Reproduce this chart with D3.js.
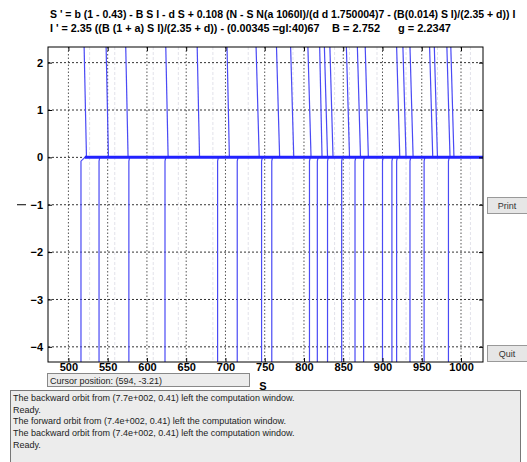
<!DOCTYPE html>
<html><head><meta charset="utf-8">
<script src="https://cdn.jsdelivr.net/npm/d3@7"></script>
<style>
body{margin:0;background:#fff;}
svg{display:block;font-family:"Liberation Sans",Arial,sans-serif;}
</style></head>
<body>
<script>
// ---------- data ----------
const xTicks = [500, 550, 600, 650, 700, 750, 800, 850, 900, 950, 1000];
const yTicks = [-4, -3, -2, -1, 0, 1, 2];
const xDomain = [474, 1028];
const yDomain = [-4.32, 2.33];

// orbits above I = 0 : S at top of window and S where they reach I = 0
const upperTopS  = [520, 548, 573, 624, 664, 702, 739, 765, 783, 805, 820, 826, 833, 854, 868, 878, 918, 926, 935, 960, 966, 982, 987];
const upperZeroS = [523, 551, 576, 627, 667, 705, 743, 769, 787, 809, 823, 830, 837, 858, 872, 882, 922, 930, 939, 964, 970, 986, 991];

// orbits below I = 0 : S where they leave I = 0 and S at bottom of window
const lowerZeroS   = [521, 540, 578, 624, 691, 716, 747, 760, 808, 818, 831, 849, 866, 877, 901, 913, 919, 936, 954, 985];
const lowerBottomS = [516, 539, 577, 623, 690, 715, 746, 759, 807, 817, 830, 848, 865, 876, 900, 912, 918, 935, 953, 984];

// faint ghost traces visible in the window
const ghostS = [527, 559, 608, 640, 684, 729, 786, 839, 858, 893, 930, 970, 1012];

// equilibrium line I = 0
const zeroLineS = [521, 1028];

const title1 = "S ' = b (1 - 0.43) - B S I - d S + 0.108 (N - S N(a 1060I)/(d d 1.750004)7 - (B(0.014) S I)/(2.35 + d)) I";
const title2a = "I ' = 2.35 ((B (1 + a) S I)/(2.35 + d)) - (0.00345 =gl:40)67";
const title2b = "B = 2.752";
const title2c = "g = 2.2347";
const xLabel = "S";
const cursorText = "Cursor position:  (594, -3.21)";
const messages = [
  "The backward orbit from (7.7e+002, 0.41) left the computation window.",
  "Ready.",
  "The forward orbit from (7.4e+002, 0.41) left the computation window.",
  "The backward orbit from (7.4e+002, 0.41) left the computation window.",
  "Ready."
];

// ---------- layout ----------
const W = 527, H = 462;
const L = 48, R = 483, T = 47, B = 362;

const svg = d3.select("body").append("svg").attr("width", W).attr("height", H);
const x = d3.scaleLinear().domain(xDomain).range([L, R]);
const y = d3.scaleLinear().domain(yDomain).range([B, T]);

// titles (squeezed horizontally to the width they take in the window)
function squeezed(str, x0, y0, width) {
  const t = svg.append("text").attr("font-size", 11).attr("font-weight", "bold").text(str);
  const w = t.node().getComputedTextLength();
  const sx = Math.min(1, width / w);
  t.attr("transform", `translate(${x0},${y0}) scale(${sx},1)`);
  return t;
}
squeezed(title1, 50, 18, 466);
squeezed(title2a, 50, 31.5, 270);
svg.append("text").attr("x", 332).attr("y", 31.5).attr("font-size", 11).attr("font-weight", "bold").text(title2b);
svg.append("text").attr("x", 398).attr("y", 31.5).attr("font-size", 11).attr("font-weight", "bold").text(title2c);

// plot background
svg.append("rect").attr("x", L).attr("y", T).attr("width", R - L).attr("height", B - T).attr("fill", "#fff");

// faint ghosts
svg.selectAll("line.ghost").data(ghostS).join("line")
  .attr("x1", d => x(d)).attr("x2", d => x(d)).attr("y1", T).attr("y2", B)
  .attr("stroke", "#e2e2ea").attr("stroke-width", 1).attr("stroke-dasharray", "3,2");

// grid
const grid = svg.append("g");
grid.selectAll("line.gx").data(xTicks).join("line")
  .attr("x1", d => x(d)).attr("x2", d => x(d)).attr("y1", T).attr("y2", B)
  .attr("stroke", "#555").attr("stroke-width", 1).attr("stroke-dasharray", "1.5,2");
grid.selectAll("line.gy").data(yTicks).join("line")
  .attr("y1", d => y(d)).attr("y2", d => y(d)).attr("x1", L).attr("x2", R)
  .attr("stroke", "#333").attr("stroke-width", 1).attr("stroke-dasharray", "2,2");

// orbits
svg.append("clipPath").attr("id", "c").append("rect")
  .attr("x", L).attr("y", T).attr("width", R - L).attr("height", B - T);
const plot = svg.append("g").attr("clip-path", "url(#c)");
const line = d3.line().x(d => x(d[0])).y(d => y(d[1]));
const blue = "#4a4af5";

plot.selectAll("path.up").data(upperTopS.map((s, i) => [[s, yDomain[1]], [upperZeroS[i], 0]])).join("path")
  .attr("d", line).attr("fill", "none").attr("stroke", blue).attr("stroke-width", 1.2);
plot.selectAll("path.lo").data(lowerBottomS.map((s, i) => [[lowerZeroS[i], 0], [s, -0.08], [s, yDomain[0]]])).join("path")
  .attr("d", line).attr("fill", "none").attr("stroke", blue).attr("stroke-width", 1.2);
plot.append("path").datum(zeroLineS.map(s => [s, 0])).attr("d", line)
  .attr("fill", "none").attr("stroke", "#2222ff").attr("stroke-width", 3);

// frame
svg.append("rect").attr("x", L).attr("y", T).attr("width", R - L).attr("height", B - T)
  .attr("fill", "none").attr("stroke", "#000").attr("stroke-width", 1);

// axes
const ax = svg.append("g").attr("transform", `translate(0,${B})`)
  .call(d3.axisBottom(x).tickValues(xTicks).tickSize(-4).tickPadding(1).tickFormat(d3.format("d")));
const axT = svg.append("g").attr("transform", `translate(0,${T})`)
  .call(d3.axisTop(x).tickValues(xTicks).tickSize(-4).tickFormat(""));
const ay = svg.append("g").attr("transform", `translate(${L},0)`)
  .call(d3.axisLeft(y).tickValues(yTicks).tickSize(-4).tickPadding(5).tickFormat(d3.format("d")));
const ayR = svg.append("g").attr("transform", `translate(${R},0)`)
  .call(d3.axisRight(y).tickValues(yTicks).tickSize(-4).tickFormat(""));
[ax, axT, ay, ayR].forEach(g => {
  g.select(".domain").remove();
  g.selectAll(".tick line").attr("stroke", "#000");
  g.selectAll("text").attr("font-size", 11).attr("font-weight", "bold").attr("fill", "#000")
    .attr("font-family", "'Liberation Sans',Arial,sans-serif");
});

// x label
svg.append("text").attr("x", 263).attr("y", 390).attr("text-anchor", "middle")
  .attr("font-size", 11).attr("font-weight", "bold").text(xLabel);

// stray dash left of -1
svg.append("line").attr("x1", 17).attr("x2", 26).attr("y1", y(-1)).attr("y2", y(-1))
  .attr("stroke", "#000").attr("stroke-width", 1);

// cursor box
svg.append("rect").attr("x", 47.5).attr("y", 373.5).attr("width", 202).attr("height", 13)
  .attr("fill", "#ececec").attr("stroke", "#888");
svg.append("text").attr("x", 50).attr("y", 383.5).attr("font-size", 9).attr("fill", "#222").text(cursorText);

// message box
svg.append("rect").attr("x", 10.5).attr("y", 390.5).attr("width", 510).attr("height", 75)
  .attr("fill", "#ececec").attr("stroke", "#777");
svg.selectAll("text.msg").data(messages).join("text")
  .attr("x", 13).attr("y", (d, i) => 401 + i * 11.7).attr("font-size", 9).attr("fill", "#222").text(d => d);

// buttons
function button(y0, label) {
  const g = svg.append("g");
  g.append("rect").attr("x", 487.5).attr("y", y0 + 0.5).attr("width", 45).attr("height", 16)
    .attr("fill", "#e6e6e6").attr("stroke", "#999");
  g.append("text").attr("x", 507).attr("y", y0 + 12).attr("text-anchor", "middle")
    .attr("font-size", 9).attr("fill", "#333").text(label);
}
button(197, "Print");
button(345, "Quit");
</script>
</body></html>
